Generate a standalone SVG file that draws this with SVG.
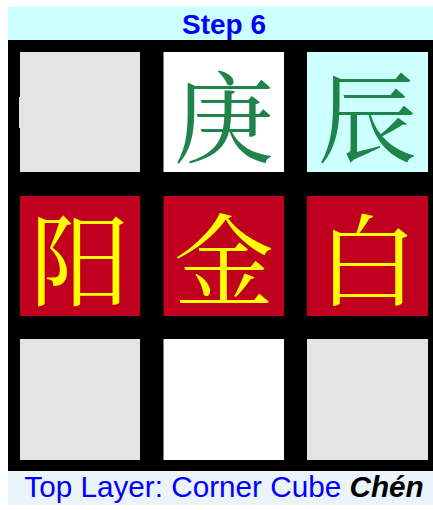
<svg xmlns="http://www.w3.org/2000/svg" width="433" height="510" viewBox="0 0 433 510">
<style>
.title{font-family:"Liberation Sans",Arial,sans-serif;font-weight:bold;font-size:28px;fill:#0000FF}
.cap{font-family:"Liberation Sans",Arial,sans-serif;font-size:29.7px;fill:#0000FF}
.capb{font-weight:bold;font-style:italic;fill:#000000}
.hz{font-family:"Noto Serif CJK SC","Noto Sans CJK SC",serif;font-size:100px;text-anchor:middle}
.g{fill:#1E8449}
.y{fill:#FFFF00}
.gray{fill:#E4E4E4}
.white{fill:#FFFFFF}
.cyan{fill:#CCFFFF}
.red{fill:#C1001F}
</style>
<rect x="0" y="0" width="433" height="510" fill="#FFFFFF"/>
<g id="title">
<rect x="8" y="7" width="432" height="33" fill="#CCFFFF"/>
<text class="title" x="224" y="34" text-anchor="middle">Step 6</text>
</g>
<rect id="board" x="8" y="40" width="432" height="431" fill="#000000"/>
<g id="c11"><rect class="gray" x="20" y="52" width="120" height="120"/><rect class="gray" x="19" y="97" width="1.5" height="31"/></g>
<g id="c12"><rect class="white" x="163.5" y="52" width="120.5" height="120"/><text class="hz g" x="224" y="155">庚</text></g>
<g id="c13"><rect class="cyan" x="307" y="52" width="121" height="120"/><text class="hz g" x="367.5" y="155">辰</text></g>
<g id="c21"><rect class="red" x="20" y="196" width="120" height="120"/><text class="hz y" x="80" y="298">阳</text></g>
<g id="c22"><rect class="red" x="163.5" y="196" width="120.5" height="120"/><text class="hz y" x="224" y="298">金</text></g>
<g id="c23"><rect class="red" x="307" y="196" width="121" height="120"/><text class="hz y" x="367.5" y="298">白</text></g>
<g id="c31"><rect class="gray" x="20" y="339" width="120" height="121"/></g>
<g id="c32"><rect class="white" x="163.5" y="339" width="120.5" height="121"/></g>
<g id="c33"><rect class="gray" x="307" y="339" width="121" height="121"/></g>
<g id="caption">
<rect x="8" y="471" width="432" height="34" fill="#EBF3FB"/>
<text class="cap" x="224" y="497" text-anchor="middle">Top Layer: Corner Cube <tspan class="capb">Chén</tspan></text>
</g>
<g id="connectors"></g>
</svg>
